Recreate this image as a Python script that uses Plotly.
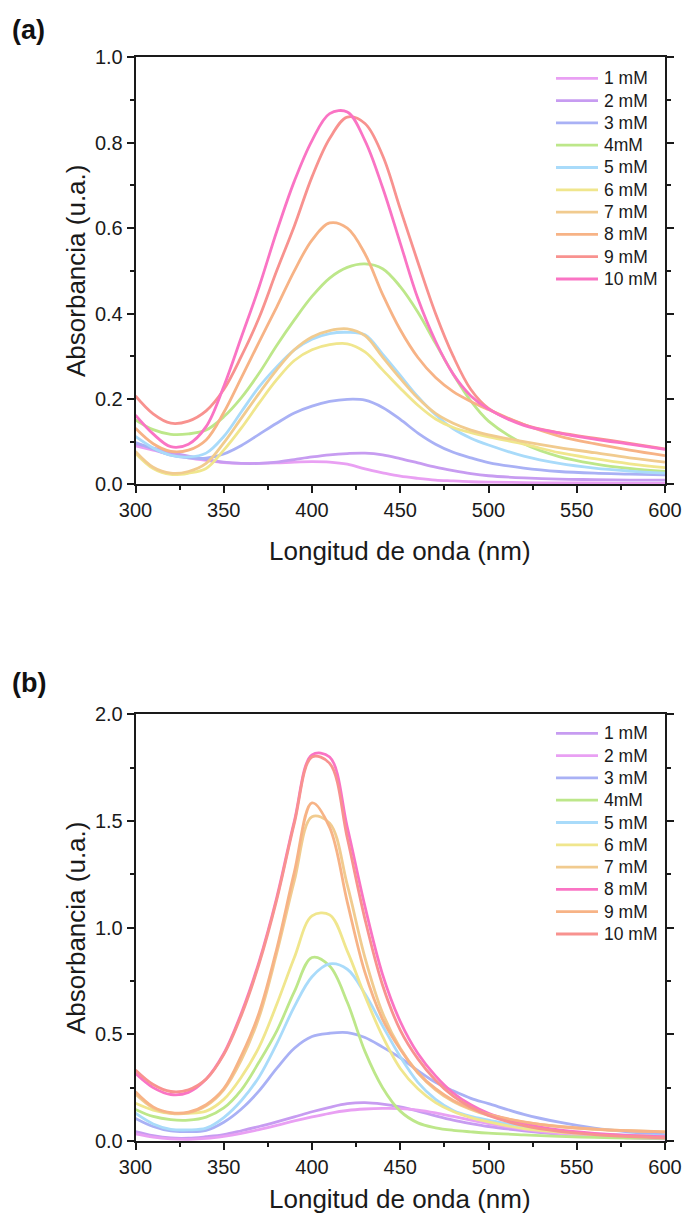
import plotly.graph_objects as go

# Wavelength grid (nm) shared by every spectrum
wavelength = [300, 310, 320, 330, 340, 350, 360, 370, 380, 390, 400, 410, 420,
              430, 440, 450, 460, 470, 480, 490, 500, 520, 540, 560, 580, 600]

# ---------------- Panel (a) absorbance spectra ----------------
labels_a = ["1 mM", "2 mM", "3 mM", "4mM", "5 mM", "6 mM", "7 mM", "8 mM", "9 mM", "10 mM"]
colors_a = ["#E9A0F3", "#C79CF1", "#A9B1F5", "#BDE78A", "#A9DBFA",
            "#F0E68D", "#F1CB8F", "#F7B386", "#F8928F", "#FA74C4"]

a_1mM = [0.090, 0.080, 0.070, 0.062, 0.056, 0.051, 0.049, 0.049, 0.050, 0.052, 0.053, 0.052, 0.047,
         0.036, 0.027, 0.019, 0.014, 0.010, 0.008, 0.006, 0.005, 0.004, 0.003, 0.003, 0.002, 0.002]
a_2mM = [0.095, 0.085, 0.075, 0.066, 0.058, 0.052, 0.049, 0.049, 0.052, 0.058, 0.064, 0.069, 0.072,
         0.073, 0.069, 0.060, 0.050, 0.040, 0.032, 0.025, 0.020, 0.015, 0.012, 0.011, 0.010, 0.010]
a_3mM = [0.098, 0.083, 0.068, 0.062, 0.061, 0.071, 0.091, 0.117, 0.143, 0.167, 0.183, 0.194, 0.199,
         0.197, 0.180, 0.152, 0.120, 0.094, 0.075, 0.062, 0.051, 0.038, 0.030, 0.026, 0.024, 0.022]
a_4mM = [0.151, 0.128, 0.117, 0.118, 0.127, 0.158, 0.203, 0.260, 0.325, 0.385, 0.440, 0.483, 0.508,
         0.516, 0.505, 0.463, 0.403, 0.330, 0.258, 0.195, 0.148, 0.095, 0.065, 0.048, 0.037, 0.030]
a_5mM = [0.112, 0.085, 0.068, 0.064, 0.073, 0.112, 0.170, 0.228, 0.275, 0.315, 0.340, 0.353, 0.356,
         0.350, 0.305, 0.255, 0.205, 0.163, 0.130, 0.108, 0.092, 0.066, 0.049, 0.038, 0.031, 0.026]
a_6mM = [0.073, 0.037, 0.023, 0.026, 0.037, 0.080, 0.132, 0.190, 0.245, 0.290, 0.315, 0.327, 0.329,
         0.310, 0.268, 0.225, 0.185, 0.153, 0.133, 0.121, 0.111, 0.094, 0.074, 0.060, 0.048, 0.039]
a_7mM = [0.077, 0.040, 0.026, 0.030, 0.049, 0.097, 0.155, 0.213, 0.268, 0.315, 0.345, 0.360, 0.364,
         0.348, 0.298, 0.248, 0.202, 0.166, 0.143, 0.127, 0.116, 0.100, 0.086, 0.074, 0.062, 0.052]
a_8mM = [0.131, 0.095, 0.077, 0.080, 0.104, 0.168, 0.250, 0.333, 0.415, 0.500, 0.572, 0.612, 0.600,
         0.540, 0.445, 0.362, 0.297, 0.250, 0.217, 0.194, 0.175, 0.140, 0.113, 0.095, 0.080, 0.067]
a_9mM = [0.207, 0.165, 0.143, 0.148, 0.172, 0.222, 0.300, 0.390, 0.500, 0.605, 0.720, 0.810, 0.860,
         0.845, 0.770, 0.645, 0.520, 0.400, 0.300, 0.222, 0.178, 0.140, 0.121, 0.108, 0.096, 0.083]
a_10mM = [0.162, 0.118, 0.088, 0.094, 0.135, 0.229, 0.345, 0.462, 0.592, 0.710, 0.805, 0.868, 0.872,
          0.805, 0.695, 0.565, 0.435, 0.335, 0.258, 0.207, 0.176, 0.138, 0.120, 0.106, 0.094, 0.082]
series_a = [a_1mM, a_2mM, a_3mM, a_4mM, a_5mM, a_6mM, a_7mM, a_8mM, a_9mM, a_10mM]

# ---------------- Panel (b) absorbance spectra ----------------
labels_b = ["1 mM", "2 mM", "3 mM", "4mM", "5 mM", "6 mM", "7 mM", "8 mM", "9 mM", "10 mM"]
colors_b = ["#C79CF1", "#E9A0F3", "#A9B1F5", "#BDE78A", "#A9DBFA",
            "#F0E68D", "#F1CB8F", "#FA74C4", "#F7B386", "#F8928F"]

b_1mM = [0.044, 0.025, 0.014, 0.013, 0.020, 0.030, 0.048, 0.068, 0.090, 0.113, 0.137, 0.158, 0.175,
         0.180, 0.173, 0.160, 0.140, 0.118, 0.098, 0.082, 0.068, 0.048, 0.032, 0.022, 0.016, 0.012]
b_2mM = [0.033, 0.018, 0.010, 0.008, 0.012, 0.022, 0.036, 0.053, 0.073, 0.094, 0.113, 0.130, 0.143,
         0.150, 0.153, 0.152, 0.145, 0.132, 0.115, 0.098, 0.082, 0.055, 0.035, 0.022, 0.015, 0.010]
b_3mM = [0.106, 0.068, 0.047, 0.044, 0.050, 0.088, 0.150, 0.235, 0.340, 0.435, 0.490, 0.505, 0.508,
         0.485, 0.440, 0.390, 0.330, 0.275, 0.235, 0.200, 0.175, 0.125, 0.088, 0.060, 0.042, 0.030]
b_4mM = [0.148, 0.115, 0.100, 0.098, 0.112, 0.155, 0.240, 0.370, 0.515, 0.700, 0.860, 0.820, 0.650,
         0.420, 0.250, 0.140, 0.085, 0.062, 0.050, 0.043, 0.037, 0.029, 0.022, 0.017, 0.014, 0.012]
b_5mM = [0.130, 0.080, 0.055, 0.052, 0.060, 0.110, 0.190, 0.300, 0.455, 0.630, 0.770, 0.830, 0.805,
         0.690, 0.540, 0.395, 0.275, 0.195, 0.143, 0.115, 0.098, 0.066, 0.045, 0.033, 0.027, 0.023]
b_6mM = [0.177, 0.145, 0.130, 0.130, 0.140, 0.195, 0.300, 0.440, 0.640, 0.860, 1.055, 1.060, 0.890,
         0.680, 0.490, 0.340, 0.245, 0.180, 0.138, 0.110, 0.090, 0.058, 0.042, 0.032, 0.025, 0.020]
b_7mM = [0.220, 0.155, 0.130, 0.132, 0.165, 0.240, 0.380, 0.580, 0.880, 1.220, 1.520, 1.490, 1.200,
         0.860, 0.600, 0.435, 0.320, 0.240, 0.185, 0.148, 0.120, 0.088, 0.067, 0.055, 0.048, 0.043]
b_8mM = [0.317, 0.250, 0.218, 0.228, 0.290, 0.410, 0.600, 0.840, 1.140, 1.500, 1.810, 1.800, 1.470,
         1.100, 0.780, 0.560, 0.410, 0.305, 0.225, 0.170, 0.130, 0.082, 0.052, 0.036, 0.026, 0.020]
b_9mM = [0.231, 0.160, 0.133, 0.135, 0.170, 0.245, 0.400, 0.600, 0.900, 1.260, 1.585, 1.470, 1.120,
         0.790, 0.570, 0.430, 0.320, 0.245, 0.190, 0.152, 0.125, 0.090, 0.068, 0.056, 0.048, 0.043]
b_10mM = [0.333, 0.265, 0.232, 0.240, 0.290, 0.405, 0.590, 0.830, 1.130, 1.490, 1.800, 1.770, 1.420,
          1.040, 0.730, 0.520, 0.385, 0.285, 0.210, 0.158, 0.120, 0.072, 0.045, 0.030, 0.021, 0.015]
series_b = [b_1mM, b_2mM, b_3mM, b_4mM, b_5mM, b_6mM, b_7mM, b_8mM, b_9mM, b_10mM]

W, H = 686, 1215
FONT = "Arial, 'Liberation Sans', sans-serif"
INK = "#1a1a1a"
LINE_W = 2.8

fig = go.Figure()

for name, col, ys in zip(labels_a, colors_a, series_a):
    fig.add_trace(go.Scatter(
        x=wavelength, y=ys, name=name, mode="lines", showlegend=False,
        line=dict(color=col, width=LINE_W, shape="spline", smoothing=1.0),
        xaxis="x", yaxis="y"))

for name, col, ys in zip(labels_b, colors_b, series_b):
    fig.add_trace(go.Scatter(
        x=wavelength, y=ys, name=name, mode="lines", showlegend=False,
        line=dict(color=col, width=LINE_W, shape="spline", smoothing=1.0),
        xaxis="x2", yaxis="y2"))


def px_x(p):
    return p / W


def px_y(p):
    return (H - p) / H


axis_common = dict(
    showline=True, linecolor=INK, linewidth=1.6,
    ticks="outside", ticklen=7, tickwidth=1.5, tickcolor=INK,
    showgrid=False, zeroline=False, automargin=False,
    tickfont=dict(family=FONT, size=20, color=INK),
)
minor_common = dict(ticklen=4, tickwidth=1.5, tickcolor=INK, ticks="outside", showgrid=False)

x_dom = [px_x(135.5), px_x(665)]

xaxis = dict(axis_common, domain=x_dom, range=[300, 600], dtick=50, tick0=300,
             mirror=True, minor=dict(minor_common, dtick=25))

fig.update_layout(
    template="none",
    width=W, height=H,
    margin=dict(l=0, r=0, t=0, b=0, pad=0),
    paper_bgcolor="white", plot_bgcolor="white",
    font=dict(family=FONT, color=INK),
    showlegend=False,
    xaxis=dict(xaxis, anchor="y"),
    yaxis=dict(axis_common, domain=[px_y(484.3), px_y(57.3)], range=[0, 1.0],
               dtick=0.2, tick0=0, tickformat=".1f", mirror="ticks", anchor="x",
               minor=dict(minor_common, dtick=0.1)),
    xaxis2=dict(xaxis, anchor="y2"),
    yaxis2=dict(axis_common, domain=[px_y(1141), px_y(714.3)], range=[0, 2.0],
                dtick=0.5, tick0=0, tickformat=".1f", mirror="ticks", anchor="x2",
                minor=dict(minor_common, dtick=0.25)),
)

# Key for each panel: short coloured strokes with their labels
shapes = []
annotations = []
legend_rows = [(labels_a, colors_a, 78.3), (labels_b, colors_b, 733.3)]
for labels, colors, top in legend_rows:
    for i, (name, col) in enumerate(zip(labels, colors)):
        yc = top + i * 22.3
        shapes.append(dict(type="line", xref="paper", yref="paper",
                           x0=px_x(556), x1=px_x(598), y0=px_y(yc), y1=px_y(yc),
                           line=dict(color=col, width=2.8)))
        annotations.append(dict(text=name, x=px_x(602), y=px_y(yc), xanchor="left",
                                yanchor="middle", font=dict(family=FONT, size=17.5, color=INK)))

title_font = dict(family=FONT, size=26, color=INK)
annotations += [
    dict(text="<b>(a)</b>", x=px_x(10), y=px_y(30), xanchor="left", yanchor="middle",
         font=dict(family=FONT, size=27, color="#111")),
    dict(text="<b>(b)</b>", x=px_x(10), y=px_y(683), xanchor="left", yanchor="middle",
         font=dict(family=FONT, size=27, color="#111")),
    dict(text="Absorbancia (u.a.)", x=px_x(76), y=px_y(271), textangle=-90,
         xanchor="center", yanchor="middle", font=title_font),
    dict(text="Absorbancia (u.a.)", x=px_x(76), y=px_y(928), textangle=-90,
         xanchor="center", yanchor="middle", font=title_font),
    dict(text="Longitud de onda (nm)", x=px_x(400), y=px_y(551),
         xanchor="center", yanchor="middle", font=title_font),
    dict(text="Longitud de onda (nm)", x=px_x(400), y=px_y(1199),
         xanchor="center", yanchor="middle", font=title_font),
]
for a in annotations:
    a.update(xref="paper", yref="paper", showarrow=False)
fig.update_layout(annotations=annotations, shapes=shapes)

fig.write_html("out.html")
